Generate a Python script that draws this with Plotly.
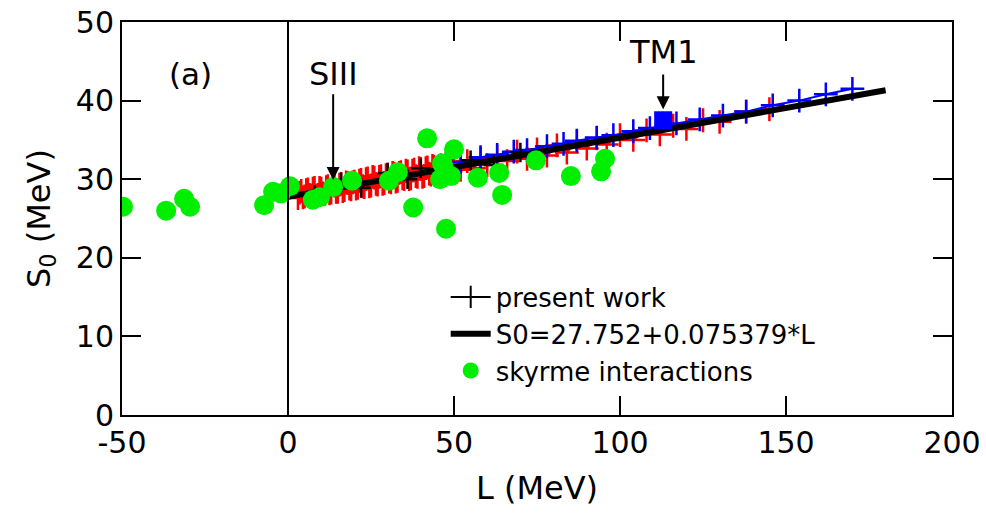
import plotly.graph_objects as go

# ---- data ----
red_L_a = [3,4,5,6,7,8,9,10,11,12,13,14,15,16,17,18,19,20,21,22,23,24,25,26,27,28,29,30,
           31,32,33,34,35,36,37,38,39,40,41,42,43,44,45,46,47,48,49,50,52,54,56,58,60,
           63,66,69,72,75,78,81,84,87,90,93,96,100,104,108,112,116,120,125,130,138,145]
red_S_a = [27.6,28.5,27.8,28.7,27.9,28.9,28.0,28.8,28.1,29.1,28.3,29.2,28.4,29.4,28.6,29.5,
           28.7,29.7,28.9,29.9,29.0,30.1,29.2,30.2,29.3,30.4,29.5,30.6,29.6,30.7,29.8,30.9,
           30.0,31.0,30.1,31.2,30.3,31.3,30.4,31.5,30.6,31.6,30.7,31.8,30.9,31.9,31.0,32.1,
           31.2,32.3,31.4,32.6,31.8,32.9,32.3,33.5,32.6,33.8,33.0,34.3,33.4,34.8,33.9,35.2,
           34.4,35.6,35.0,36.2,35.7,36.8,36.4,37.5,37.3,38.6,38.9]
red_L_b = [3.5,4.5,5.5,6.5,7.5,8.5,9.5,10.5,11.5,12.5,13.5,14.5,15.5,16.5,17.5,18.5,19.5,
           20.5,21.5,22.5,23.5,24.5,25.5,26.5,27.5,28.5,29.5,30.5,31.5,32.5,33.5,34.5,35.5,
           36.5,37.5,38.5,39.5,40.5,41.5,42.5,43.5,44.5,45.5,46.5,47.5,48.5,49.5]
red_S_b = [28.3,27.7,28.6,28.0,28.8,27.9,28.9,28.2,29.0,28.2,29.3,28.4,29.3,28.5,29.6,28.8,
           29.6,28.8,29.8,29.1,30.0,29.1,30.3,29.4,30.3,29.4,30.5,29.7,30.8,29.7,30.8,30.1,
           31.1,30.0,31.1,30.4,31.4,30.3,31.4,30.7,31.7,30.6,31.7,31.0,32.0,30.9,31.9]

blue_L = [52,58,63,68,72,78,83,87,93,98,104,109,117,124,131,138,146,154,162,170]
blue_S = [32.2,32.8,33.1,33.5,33.7,34.2,34.5,34.9,35.3,35.6,36.1,36.5,37.1,37.6,38.1,
          38.6,39.4,40.0,40.8,41.5]

black_L = [8,16,22,30,36,40,46,55,62,70]
black_S = [28.0,29.6,28.9,30.8,30.0,31.4,30.7,32.4,31.8,33.4]

fit_L = [0, 180]
fit_S = [27.752, 41.32]

sky_L = [-49.7,-36.7,-31.3,-29.5,-7.2,-4.5,-2.1,0.6,7.5,9.6,13.6,19.3,30.4,33.1,37.7,
         41.9,46.4,46.7,45.8,49.1,47.6,50.0,57.2,63.6,64.5,74.7,85.2,94.3,95.5]
sky_S = [26.5,26.0,27.5,26.5,26.7,28.4,28.2,29.1,27.4,27.7,29.0,29.8,29.8,30.9,26.4,
         35.2,32.0,31.8,30.0,30.4,23.7,33.8,30.2,30.8,28.0,32.4,30.4,31.0,32.6]

tm1_L = [113]
tm1_S = [37.5]

x_ticks = [-50, 0, 50, 100, 150, 200]
y_ticks = [0, 10, 20, 30, 40, 50]

FONT = "DejaVu Sans, Arial, sans-serif"

red_pts = sorted(zip(red_L_a + red_L_b, red_S_a + red_S_b))
red_L = [p[0] for p in red_pts]
red_S = [p[1] for p in red_pts]

fig = go.Figure()

fig.add_trace(go.Scatter(x=red_L, y=red_S, mode="lines+markers", showlegend=False,
                         line=dict(color="#ff0000", width=2),
                         marker=dict(color="#ff0000", symbol="cross-thin", size=17,
                                     line=dict(color="#ff0000", width=2.5))))
fig.add_trace(go.Scatter(x=blue_L, y=blue_S, mode="lines+markers", showlegend=False,
                         line=dict(color="#0000ff", width=2),
                         marker=dict(color="#0000ff", symbol="cross-thin", size=17,
                                     line=dict(color="#0000ff", width=2.5))))
fig.add_trace(go.Scatter(x=black_L, y=black_S, mode="markers", showlegend=False,
                         marker=dict(color="black", symbol="cross-thin", size=14,
                                     line=dict(color="black", width=2.5))))
# legend entry for present work
fig.add_trace(go.Scatter(x=[None], y=[None], mode="lines+markers", name="present work",
                         line=dict(color="black", width=2),
                         marker=dict(color="black", symbol="cross-thin", size=18,
                                     line=dict(color="black", width=2))))
fig.add_trace(go.Scatter(x=fit_L, y=fit_S, mode="lines", name="S0=27.752+0.075379*L",
                         line=dict(color="black", width=6)))
fig.add_trace(go.Scatter(x=sky_L, y=sky_S, mode="markers", name="skyrme interactions",
                         marker=dict(color="#00ee00", size=20, line=dict(width=0))))
fig.add_trace(go.Scatter(x=tm1_L, y=tm1_S, mode="markers", showlegend=False,
                         marker=dict(color="#0000ff", symbol="square", size=18, line=dict(width=0))))

# vertical line at L=0
fig.add_shape(type="line", x0=0, x1=0, y0=0, y1=50, xref="x", yref="y",
              line=dict(color="black", width=2))

# arrows
fig.add_annotation(x=13.6, y=29.9, ax=13.6, ay=41.0, axref="x", ayref="y", xref="x", yref="y",
                   text="", showarrow=True, arrowhead=2, arrowsize=1.3, arrowwidth=2, arrowcolor="black")
fig.add_annotation(x=113, y=38.9, ax=113, ay=43.5, axref="x", ayref="y", xref="x", yref="y",
                   text="", showarrow=True, arrowhead=2, arrowsize=1.3, arrowwidth=2, arrowcolor="black")
fig.add_annotation(x=13.6, y=43.4, text="SIII", showarrow=False, font=dict(size=32, color="black", family=FONT))
fig.add_annotation(x=113, y=46.2, text="TM1", showarrow=False, font=dict(size=32, color="black", family=FONT))
fig.add_annotation(x=-29.5, y=43.4, text="(a)", showarrow=False, font=dict(size=31, color="black", family=FONT))

axis_common = dict(showline=True, linecolor="black", linewidth=2, mirror="ticks",
                   ticks="inside", ticklen=19, tickwidth=2, tickcolor="black",
                   showgrid=False, zeroline=False,
                   tickfont=dict(size=30, color="black", family=FONT))

fig.update_xaxes(range=[-50, 200], tickvals=x_ticks, ticktext=[str(v) for v in x_ticks],
                 title=dict(text="L (MeV)", font=dict(size=32, color="black", family=FONT), standoff=18),
                 **axis_common)
fig.update_yaxes(range=[0, 50], tickvals=y_ticks, ticktext=[str(v) for v in y_ticks],
                 title=dict(text="S<sub>0</sub> (MeV)", font=dict(size=32, color="black", family=FONT), standoff=16),
                 **axis_common)

fig.update_layout(
    width=986, height=518,
    margin=dict(l=122, r=34, t=22, b=103, autoexpand=False),
    plot_bgcolor="white", paper_bgcolor="white",
    font=dict(family=FONT, color="black"),
    legend=dict(x=0.39, y=0.36, xanchor="left", yanchor="top",
                bgcolor="rgba(0,0,0,0)", font=dict(size=26, color="black", family=FONT),
                itemwidth=40, tracegroupgap=0),
)

fig.write_html("out.html", config={"displayModeBar": False},
               post_script="document.body.style.margin='0';document.body.style.overflow='hidden';")
